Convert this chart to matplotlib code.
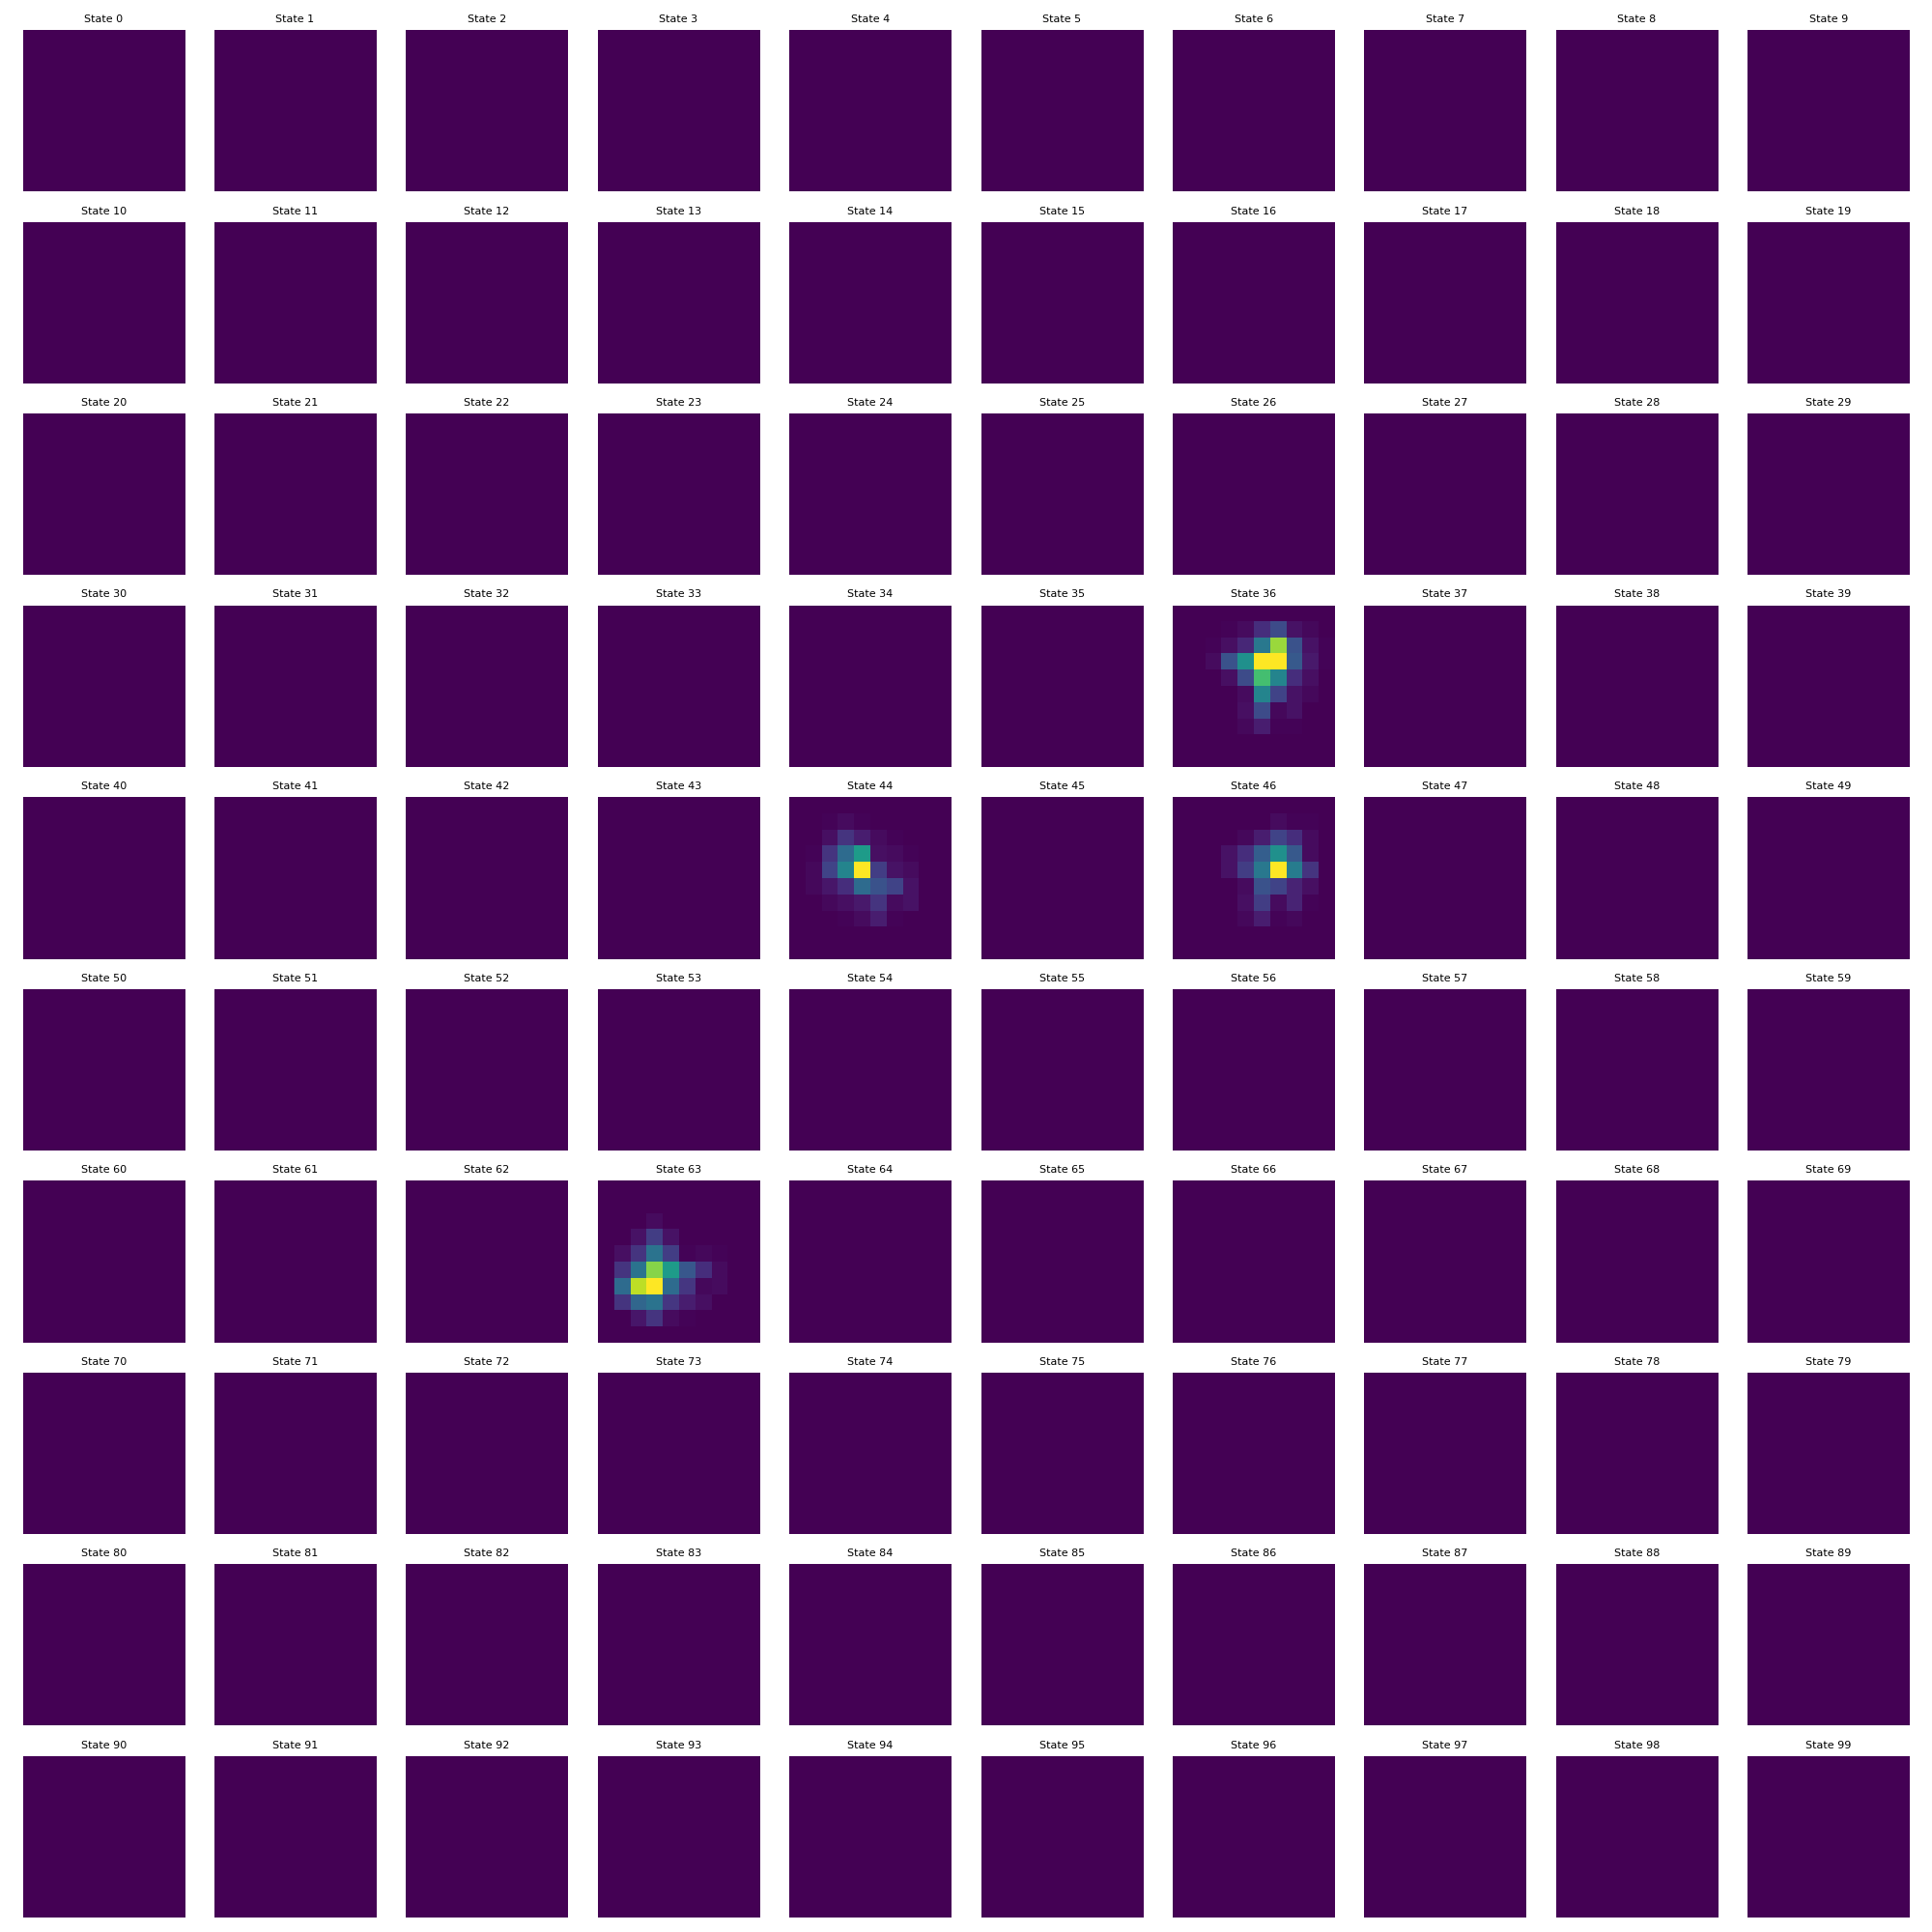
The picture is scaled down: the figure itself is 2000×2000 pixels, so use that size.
import numpy as np
import matplotlib
matplotlib.use("Agg")
import matplotlib.pyplot as plt

# 100 states, each a 10x10 grid; only a few states carry any mass
n_states = 100
grid = 10

state_36 = [
    [0, 0, 0, 0, 0, 0, 0, 0, 0, 0],
    [0, 0, 0, 0.01, 0.03, 0.13, 0.23, 0.05, 0.02, 0],
    [0, 0, 0.01, 0.04, 0.11, 0.40, 0.85, 0.25, 0.05, 0.01],
    [0, 0, 0.03, 0.25, 0.50, 1.00, 1.00, 0.28, 0.07, 0.01],
    [0, 0, 0, 0.04, 0.23, 0.70, 0.45, 0.13, 0.04, 0],
    [0, 0, 0, 0, 0.03, 0.45, 0.20, 0.05, 0.02, 0],
    [0, 0, 0, 0, 0.04, 0.23, 0.02, 0.05, 0, 0],
    [0, 0, 0, 0, 0.02, 0.08, 0.01, 0.01, 0, 0],
    [0, 0, 0, 0, 0, 0, 0, 0, 0, 0],
    [0, 0, 0, 0, 0, 0, 0, 0, 0, 0],
]

state_44 = [
    [0, 0, 0, 0, 0, 0, 0, 0, 0, 0],
    [0, 0, 0.01, 0.03, 0.01, 0, 0, 0, 0, 0],
    [0, 0, 0.04, 0.15, 0.08, 0.03, 0.01, 0, 0, 0],
    [0, 0.01, 0.15, 0.35, 0.55, 0.04, 0.03, 0.01, 0, 0],
    [0, 0.02, 0.20, 0.45, 1.00, 0.18, 0.05, 0.03, 0, 0],
    [0, 0.02, 0.06, 0.13, 0.35, 0.25, 0.20, 0.05, 0, 0],
    [0, 0, 0.02, 0.04, 0.07, 0.15, 0.03, 0.05, 0, 0],
    [0, 0, 0, 0.01, 0.03, 0.08, 0.01, 0, 0, 0],
    [0, 0, 0, 0, 0, 0, 0, 0, 0, 0],
    [0, 0, 0, 0, 0, 0, 0, 0, 0, 0],
]

state_46 = [
    [0, 0, 0, 0, 0, 0, 0, 0, 0, 0],
    [0, 0, 0, 0, 0, 0, 0.03, 0.01, 0.01, 0],
    [0, 0, 0, 0, 0.02, 0.08, 0.20, 0.13, 0.03, 0],
    [0, 0, 0, 0.05, 0.13, 0.30, 0.50, 0.28, 0.03, 0],
    [0, 0, 0, 0.05, 0.18, 0.40, 1.00, 0.42, 0.15, 0],
    [0, 0, 0, 0, 0.03, 0.25, 0.20, 0.10, 0.04, 0],
    [0, 0, 0, 0, 0.04, 0.18, 0.03, 0.10, 0.01, 0],
    [0, 0, 0, 0, 0.02, 0.08, 0.01, 0.02, 0, 0],
    [0, 0, 0, 0, 0, 0, 0, 0, 0, 0],
    [0, 0, 0, 0, 0, 0, 0, 0, 0, 0],
]

state_63 = [
    [0, 0, 0, 0, 0, 0, 0, 0, 0, 0],
    [0, 0, 0, 0, 0, 0, 0, 0, 0, 0],
    [0, 0, 0, 0.03, 0, 0, 0, 0, 0, 0],
    [0, 0, 0.05, 0.18, 0.05, 0, 0, 0, 0, 0],
    [0, 0.04, 0.15, 0.38, 0.18, 0.01, 0.02, 0.01, 0, 0],
    [0, 0.15, 0.38, 0.82, 0.55, 0.27, 0.13, 0.03, 0, 0],
    [0, 0.35, 0.90, 1.00, 0.35, 0.16, 0.02, 0.03, 0, 0],
    [0, 0.15, 0.33, 0.38, 0.16, 0.08, 0.04, 0, 0, 0],
    [0, 0, 0.06, 0.15, 0.03, 0.01, 0, 0, 0, 0],
    [0, 0, 0, 0, 0, 0, 0, 0, 0, 0],
]

active = {36: state_36, 44: state_44, 46: state_46, 63: state_63}

fig, axes = plt.subplots(10, 10, figsize=(20, 20), dpi=100)

for i in range(n_states):
    ax = axes[i // 10, i % 10]
    if i in active:
        data = np.array(active[i])
    else:
        data = np.zeros((grid, grid))
    ax.imshow(data, cmap="viridis")
    ax.set_title(f"State {i}", fontsize=8)
    ax.axis("off")

plt.tight_layout()
plt.savefig("out.png")
